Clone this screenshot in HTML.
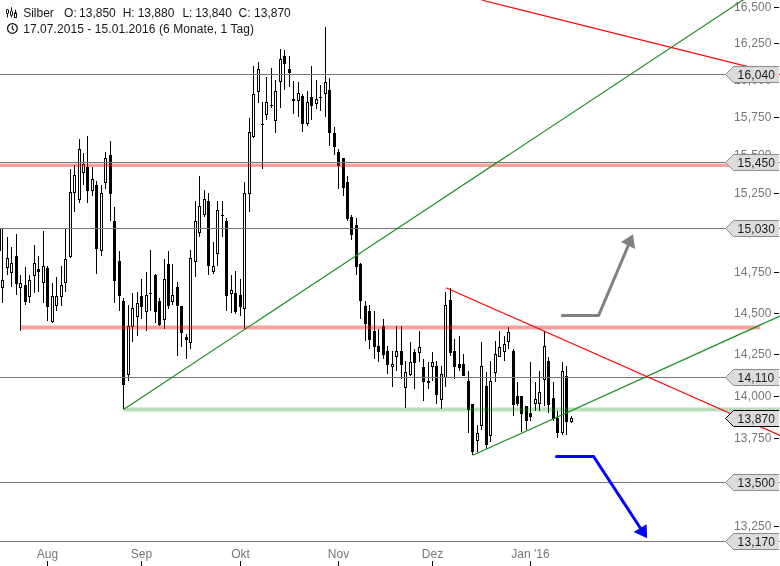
<!DOCTYPE html>
<html><head><meta charset="utf-8">
<style>
html,body{margin:0;padding:0;background:#fff;}
body{width:780px;height:566px;overflow:hidden;position:relative;font-family:"Liberation Sans",sans-serif;}
svg{position:absolute;left:0;top:0;}
svg{will-change:transform;}
.ax{font-family:"Liberation Sans",sans-serif;font-size:12px;fill:#7a7573;letter-spacing:0.17px;}
.bt{font-family:"Liberation Sans",sans-serif;font-size:12px;fill:#1a1a1a;letter-spacing:0.15px;}
.ml{font-family:"Liberation Sans",sans-serif;font-size:12px;fill:#7a7573;}
.hd{font-family:"Liberation Sans",sans-serif;font-size:12px;fill:#161616;}
</style></head>
<body>
<svg width="780" height="566" viewBox="0 0 780 566">
<rect x="0" y="0" width="780" height="566" fill="#fff"/>
<g class="axis">
<rect x="774" y="7" width="5" height="1" fill="#000"/>
<text x="771.7" y="11.3" text-anchor="end" class="ax">16,500</text>
<rect x="774" y="43" width="5" height="1" fill="#000"/>
<text x="771.7" y="47.3" text-anchor="end" class="ax">16,250</text>
<rect x="774" y="80" width="5" height="1" fill="#000"/>
<text x="771.7" y="84.3" text-anchor="end" class="ax">16,000</text>
<rect x="774" y="117" width="5" height="1" fill="#000"/>
<text x="771.7" y="121.3" text-anchor="end" class="ax">15,750</text>
<rect x="774" y="155" width="5" height="1" fill="#000"/>
<text x="771.7" y="159.3" text-anchor="end" class="ax">15,500</text>
<rect x="774" y="193" width="5" height="1" fill="#000"/>
<text x="771.7" y="197.3" text-anchor="end" class="ax">15,250</text>
<rect x="774" y="232" width="5" height="1" fill="#000"/>
<text x="771.7" y="236.3" text-anchor="end" class="ax">15,000</text>
<rect x="774" y="272" width="5" height="1" fill="#000"/>
<text x="771.7" y="276.3" text-anchor="end" class="ax">14,750</text>
<rect x="774" y="313" width="5" height="1" fill="#000"/>
<text x="771.7" y="317.3" text-anchor="end" class="ax">14,500</text>
<rect x="774" y="354" width="5" height="1" fill="#000"/>
<text x="771.7" y="358.3" text-anchor="end" class="ax">14,250</text>
<rect x="774" y="396" width="5" height="1" fill="#000"/>
<text x="771.7" y="400.3" text-anchor="end" class="ax">14,000</text>
<rect x="774" y="438" width="5" height="1" fill="#000"/>
<text x="771.7" y="442.3" text-anchor="end" class="ax">13,750</text>
<rect x="774" y="482" width="5" height="1" fill="#000"/>
<text x="771.7" y="486.3" text-anchor="end" class="ax">13,500</text>
<rect x="774" y="526" width="5" height="1" fill="#000"/>
<text x="771.7" y="530.3" text-anchor="end" class="ax">13,250</text>
</g>
<g fill="#000" shape-rendering="crispEdges">
<rect x="-1" y="228" width="1" height="23"/>
<rect x="-2" y="228" width="3" height="23"/>
<rect x="2" y="228" width="1" height="75"/>
<rect x="1" y="280" width="3" height="1"/>
<rect x="1" y="287" width="3" height="1"/>
<rect x="1" y="280" width="1" height="8"/>
<rect x="3" y="280" width="1" height="8"/>
<rect x="2" y="281" width="1" height="6" fill="#fff"/>
<rect x="7" y="237" width="1" height="38"/>
<rect x="6" y="258" width="3" height="1"/>
<rect x="6" y="267" width="3" height="1"/>
<rect x="6" y="258" width="1" height="10"/>
<rect x="8" y="258" width="1" height="10"/>
<rect x="7" y="259" width="1" height="8" fill="#fff"/>
<rect x="11" y="247" width="1" height="40"/>
<rect x="10" y="263" width="3" height="1"/>
<rect x="10" y="272" width="3" height="1"/>
<rect x="10" y="263" width="1" height="10"/>
<rect x="12" y="263" width="1" height="10"/>
<rect x="11" y="264" width="1" height="8" fill="#fff"/>
<rect x="16" y="234" width="1" height="61"/>
<rect x="15" y="256" width="3" height="28"/>
<rect x="20" y="275" width="1" height="56"/>
<rect x="19" y="283" width="3" height="1"/>
<rect x="19" y="287" width="3" height="1"/>
<rect x="19" y="283" width="1" height="5"/>
<rect x="21" y="283" width="1" height="5"/>
<rect x="20" y="284" width="1" height="3" fill="#fff"/>
<rect x="25" y="267" width="1" height="38"/>
<rect x="24" y="285" width="3" height="17"/>
<rect x="29" y="275" width="1" height="28"/>
<rect x="28" y="280" width="3" height="1"/>
<rect x="28" y="296" width="3" height="1"/>
<rect x="28" y="280" width="1" height="17"/>
<rect x="30" y="280" width="1" height="17"/>
<rect x="29" y="281" width="1" height="15" fill="#fff"/>
<rect x="34" y="245" width="1" height="48"/>
<rect x="33" y="263" width="3" height="1"/>
<rect x="33" y="275" width="3" height="1"/>
<rect x="33" y="263" width="1" height="13"/>
<rect x="35" y="263" width="1" height="13"/>
<rect x="34" y="264" width="1" height="11" fill="#fff"/>
<rect x="38" y="256" width="1" height="36"/>
<rect x="37" y="269" width="3" height="3"/>
<rect x="43" y="231" width="1" height="72"/>
<rect x="42" y="266" width="3" height="1"/>
<rect x="42" y="282" width="3" height="1"/>
<rect x="42" y="266" width="1" height="17"/>
<rect x="44" y="266" width="1" height="17"/>
<rect x="43" y="267" width="1" height="15" fill="#fff"/>
<rect x="47" y="266" width="1" height="55"/>
<rect x="46" y="268" width="3" height="39"/>
<rect x="52" y="283" width="1" height="40"/>
<rect x="51" y="296" width="3" height="1"/>
<rect x="51" y="321" width="3" height="1"/>
<rect x="51" y="296" width="1" height="26"/>
<rect x="53" y="296" width="1" height="26"/>
<rect x="52" y="297" width="1" height="24" fill="#fff"/>
<rect x="56" y="277" width="1" height="34"/>
<rect x="55" y="296" width="3" height="1"/>
<rect x="55" y="305" width="3" height="1"/>
<rect x="55" y="296" width="1" height="10"/>
<rect x="57" y="296" width="1" height="10"/>
<rect x="56" y="297" width="1" height="8" fill="#fff"/>
<rect x="61" y="266" width="1" height="40"/>
<rect x="60" y="285" width="3" height="1"/>
<rect x="60" y="296" width="3" height="1"/>
<rect x="60" y="285" width="1" height="12"/>
<rect x="62" y="285" width="1" height="12"/>
<rect x="61" y="286" width="1" height="10" fill="#fff"/>
<rect x="65" y="229" width="1" height="63"/>
<rect x="64" y="259" width="3" height="1"/>
<rect x="64" y="282" width="3" height="1"/>
<rect x="64" y="259" width="1" height="24"/>
<rect x="66" y="259" width="1" height="24"/>
<rect x="65" y="260" width="1" height="22" fill="#fff"/>
<rect x="70" y="169" width="1" height="89"/>
<rect x="69" y="192" width="3" height="1"/>
<rect x="69" y="256" width="3" height="1"/>
<rect x="69" y="192" width="1" height="65"/>
<rect x="71" y="192" width="1" height="65"/>
<rect x="70" y="193" width="1" height="63" fill="#fff"/>
<rect x="74" y="165" width="1" height="47"/>
<rect x="73" y="175" width="3" height="1"/>
<rect x="73" y="192" width="3" height="1"/>
<rect x="73" y="175" width="1" height="18"/>
<rect x="75" y="175" width="1" height="18"/>
<rect x="74" y="176" width="1" height="16" fill="#fff"/>
<rect x="79" y="139" width="1" height="64"/>
<rect x="78" y="149" width="3" height="1"/>
<rect x="78" y="199" width="3" height="1"/>
<rect x="78" y="149" width="1" height="51"/>
<rect x="80" y="149" width="1" height="51"/>
<rect x="79" y="150" width="1" height="49" fill="#fff"/>
<rect x="83" y="153" width="1" height="32"/>
<rect x="82" y="164" width="3" height="1"/>
<rect x="82" y="172" width="3" height="1"/>
<rect x="82" y="164" width="1" height="9"/>
<rect x="84" y="164" width="1" height="9"/>
<rect x="83" y="165" width="1" height="7" fill="#fff"/>
<rect x="87" y="136" width="1" height="67"/>
<rect x="86" y="167" width="3" height="24"/>
<rect x="92" y="167" width="1" height="29"/>
<rect x="91" y="179" width="3" height="1"/>
<rect x="91" y="190" width="3" height="1"/>
<rect x="91" y="179" width="1" height="12"/>
<rect x="93" y="179" width="1" height="12"/>
<rect x="92" y="180" width="1" height="10" fill="#fff"/>
<rect x="96" y="181" width="1" height="93"/>
<rect x="95" y="185" width="3" height="64"/>
<rect x="101" y="185" width="1" height="71"/>
<rect x="100" y="193" width="3" height="1"/>
<rect x="100" y="250" width="3" height="1"/>
<rect x="100" y="193" width="1" height="58"/>
<rect x="102" y="193" width="1" height="58"/>
<rect x="101" y="194" width="1" height="56" fill="#fff"/>
<rect x="105" y="152" width="1" height="37"/>
<rect x="104" y="158" width="3" height="1"/>
<rect x="104" y="182" width="3" height="1"/>
<rect x="104" y="158" width="1" height="25"/>
<rect x="106" y="158" width="1" height="25"/>
<rect x="105" y="159" width="1" height="23" fill="#fff"/>
<rect x="110" y="141" width="1" height="80"/>
<rect x="109" y="155" width="3" height="39"/>
<rect x="114" y="207" width="1" height="96"/>
<rect x="113" y="221" width="3" height="60"/>
<rect x="119" y="251" width="1" height="60"/>
<rect x="118" y="261" width="3" height="35"/>
<rect x="123" y="298" width="1" height="111"/>
<rect x="122" y="301" width="3" height="84"/>
<rect x="128" y="305" width="1" height="76"/>
<rect x="127" y="326" width="3" height="1"/>
<rect x="127" y="374" width="3" height="1"/>
<rect x="127" y="326" width="1" height="49"/>
<rect x="129" y="326" width="1" height="49"/>
<rect x="128" y="327" width="1" height="47" fill="#fff"/>
<rect x="132" y="293" width="1" height="49"/>
<rect x="131" y="308" width="3" height="1"/>
<rect x="131" y="326" width="3" height="1"/>
<rect x="131" y="308" width="1" height="19"/>
<rect x="133" y="308" width="1" height="19"/>
<rect x="132" y="309" width="1" height="17" fill="#fff"/>
<rect x="137" y="292" width="1" height="44"/>
<rect x="136" y="303" width="3" height="1"/>
<rect x="136" y="316" width="3" height="1"/>
<rect x="136" y="303" width="1" height="14"/>
<rect x="138" y="303" width="1" height="14"/>
<rect x="137" y="304" width="1" height="12" fill="#fff"/>
<rect x="141" y="279" width="1" height="40"/>
<rect x="140" y="296" width="3" height="11"/>
<rect x="146" y="272" width="1" height="59"/>
<rect x="145" y="295" width="3" height="1"/>
<rect x="145" y="311" width="3" height="1"/>
<rect x="145" y="295" width="1" height="17"/>
<rect x="147" y="295" width="1" height="17"/>
<rect x="146" y="296" width="1" height="15" fill="#fff"/>
<rect x="150" y="250" width="1" height="61"/>
<rect x="149" y="293" width="3" height="1"/>
<rect x="155" y="274" width="1" height="49"/>
<rect x="154" y="275" width="3" height="37"/>
<rect x="159" y="298" width="1" height="28"/>
<rect x="158" y="301" width="3" height="24"/>
<rect x="164" y="259" width="1" height="70"/>
<rect x="163" y="279" width="3" height="1"/>
<rect x="163" y="319" width="3" height="1"/>
<rect x="163" y="279" width="1" height="41"/>
<rect x="165" y="279" width="1" height="41"/>
<rect x="164" y="280" width="1" height="39" fill="#fff"/>
<rect x="168" y="251" width="1" height="58"/>
<rect x="167" y="264" width="3" height="42"/>
<rect x="172" y="264" width="1" height="41"/>
<rect x="171" y="295" width="3" height="1"/>
<rect x="171" y="301" width="3" height="1"/>
<rect x="171" y="295" width="1" height="7"/>
<rect x="173" y="295" width="1" height="7"/>
<rect x="172" y="296" width="1" height="5" fill="#fff"/>
<rect x="177" y="282" width="1" height="74"/>
<rect x="176" y="287" width="3" height="19"/>
<rect x="181" y="306" width="1" height="41"/>
<rect x="180" y="306" width="3" height="27"/>
<rect x="186" y="334" width="1" height="25"/>
<rect x="185" y="337" width="3" height="3"/>
<rect x="190" y="250" width="1" height="99"/>
<rect x="189" y="258" width="3" height="1"/>
<rect x="189" y="342" width="3" height="1"/>
<rect x="189" y="258" width="1" height="85"/>
<rect x="191" y="258" width="1" height="85"/>
<rect x="190" y="259" width="1" height="83" fill="#fff"/>
<rect x="195" y="201" width="1" height="76"/>
<rect x="194" y="221" width="3" height="1"/>
<rect x="194" y="261" width="3" height="1"/>
<rect x="194" y="221" width="1" height="41"/>
<rect x="196" y="221" width="1" height="41"/>
<rect x="195" y="222" width="1" height="39" fill="#fff"/>
<rect x="199" y="176" width="1" height="61"/>
<rect x="198" y="206" width="3" height="1"/>
<rect x="198" y="232" width="3" height="1"/>
<rect x="198" y="206" width="1" height="27"/>
<rect x="200" y="206" width="1" height="27"/>
<rect x="199" y="207" width="1" height="25" fill="#fff"/>
<rect x="204" y="190" width="1" height="27"/>
<rect x="203" y="199" width="3" height="1"/>
<rect x="203" y="214" width="3" height="1"/>
<rect x="203" y="199" width="1" height="16"/>
<rect x="205" y="199" width="1" height="16"/>
<rect x="204" y="200" width="1" height="14" fill="#fff"/>
<rect x="208" y="193" width="1" height="82"/>
<rect x="207" y="201" width="3" height="65"/>
<rect x="213" y="242" width="1" height="32"/>
<rect x="212" y="266" width="3" height="1"/>
<rect x="212" y="271" width="3" height="1"/>
<rect x="212" y="266" width="1" height="6"/>
<rect x="214" y="266" width="1" height="6"/>
<rect x="213" y="267" width="1" height="4" fill="#fff"/>
<rect x="217" y="201" width="1" height="65"/>
<rect x="216" y="210" width="3" height="1"/>
<rect x="216" y="253" width="3" height="1"/>
<rect x="216" y="210" width="1" height="44"/>
<rect x="218" y="210" width="1" height="44"/>
<rect x="217" y="211" width="1" height="42" fill="#fff"/>
<rect x="222" y="201" width="1" height="36"/>
<rect x="221" y="215" width="3" height="1"/>
<rect x="226" y="218" width="1" height="93"/>
<rect x="225" y="221" width="3" height="75"/>
<rect x="231" y="275" width="1" height="38"/>
<rect x="230" y="290" width="3" height="1"/>
<rect x="230" y="293" width="3" height="1"/>
<rect x="230" y="290" width="1" height="4"/>
<rect x="232" y="290" width="1" height="4"/>
<rect x="231" y="291" width="1" height="2" fill="#fff"/>
<rect x="235" y="271" width="1" height="43"/>
<rect x="234" y="293" width="3" height="19"/>
<rect x="240" y="279" width="1" height="37"/>
<rect x="239" y="295" width="3" height="12"/>
<rect x="244" y="182" width="1" height="147"/>
<rect x="243" y="193" width="3" height="1"/>
<rect x="243" y="308" width="3" height="1"/>
<rect x="243" y="193" width="1" height="116"/>
<rect x="245" y="193" width="1" height="116"/>
<rect x="244" y="194" width="1" height="114" fill="#fff"/>
<rect x="249" y="118" width="1" height="94"/>
<rect x="248" y="132" width="3" height="1"/>
<rect x="248" y="193" width="3" height="1"/>
<rect x="248" y="132" width="1" height="62"/>
<rect x="250" y="132" width="1" height="62"/>
<rect x="249" y="133" width="1" height="60" fill="#fff"/>
<rect x="253" y="66" width="1" height="72"/>
<rect x="252" y="94" width="3" height="1"/>
<rect x="252" y="136" width="3" height="1"/>
<rect x="252" y="94" width="1" height="43"/>
<rect x="254" y="94" width="1" height="43"/>
<rect x="253" y="95" width="1" height="41" fill="#fff"/>
<rect x="258" y="62" width="1" height="41"/>
<rect x="257" y="69" width="3" height="1"/>
<rect x="257" y="91" width="3" height="1"/>
<rect x="257" y="69" width="1" height="23"/>
<rect x="259" y="69" width="1" height="23"/>
<rect x="258" y="70" width="1" height="21" fill="#fff"/>
<rect x="262" y="102" width="1" height="67"/>
<rect x="261" y="124" width="3" height="1"/>
<rect x="266" y="77" width="1" height="43"/>
<rect x="265" y="102" width="3" height="1"/>
<rect x="265" y="114" width="3" height="1"/>
<rect x="265" y="102" width="1" height="13"/>
<rect x="267" y="102" width="1" height="13"/>
<rect x="266" y="103" width="1" height="11" fill="#fff"/>
<rect x="271" y="68" width="1" height="40"/>
<rect x="270" y="105" width="3" height="1"/>
<rect x="275" y="80" width="1" height="53"/>
<rect x="274" y="91" width="3" height="1"/>
<rect x="274" y="120" width="3" height="1"/>
<rect x="274" y="91" width="1" height="30"/>
<rect x="276" y="91" width="1" height="30"/>
<rect x="275" y="92" width="1" height="28" fill="#fff"/>
<rect x="280" y="49" width="1" height="59"/>
<rect x="279" y="59" width="3" height="1"/>
<rect x="279" y="81" width="3" height="1"/>
<rect x="279" y="59" width="1" height="23"/>
<rect x="281" y="59" width="1" height="23"/>
<rect x="280" y="60" width="1" height="21" fill="#fff"/>
<rect x="284" y="50" width="1" height="40"/>
<rect x="283" y="56" width="3" height="8"/>
<rect x="289" y="56" width="1" height="31"/>
<rect x="288" y="69" width="3" height="4"/>
<rect x="293" y="81" width="1" height="33"/>
<rect x="292" y="99" width="3" height="2"/>
<rect x="298" y="82" width="1" height="35"/>
<rect x="297" y="93" width="3" height="1"/>
<rect x="297" y="100" width="3" height="1"/>
<rect x="297" y="93" width="1" height="8"/>
<rect x="299" y="93" width="1" height="8"/>
<rect x="298" y="94" width="1" height="6" fill="#fff"/>
<rect x="302" y="94" width="1" height="38"/>
<rect x="301" y="96" width="3" height="28"/>
<rect x="307" y="91" width="1" height="35"/>
<rect x="306" y="102" width="3" height="1"/>
<rect x="306" y="123" width="3" height="1"/>
<rect x="306" y="102" width="1" height="22"/>
<rect x="308" y="102" width="1" height="22"/>
<rect x="307" y="103" width="1" height="20" fill="#fff"/>
<rect x="311" y="66" width="1" height="54"/>
<rect x="310" y="97" width="3" height="9"/>
<rect x="316" y="80" width="1" height="29"/>
<rect x="315" y="99" width="3" height="1"/>
<rect x="315" y="103" width="3" height="1"/>
<rect x="315" y="99" width="1" height="5"/>
<rect x="317" y="99" width="1" height="5"/>
<rect x="316" y="100" width="1" height="3" fill="#fff"/>
<rect x="320" y="85" width="1" height="26"/>
<rect x="319" y="97" width="3" height="1"/>
<rect x="325" y="27" width="1" height="90"/>
<rect x="324" y="82" width="3" height="1"/>
<rect x="324" y="93" width="3" height="1"/>
<rect x="324" y="82" width="1" height="12"/>
<rect x="326" y="82" width="1" height="12"/>
<rect x="325" y="83" width="1" height="10" fill="#fff"/>
<rect x="329" y="78" width="1" height="68"/>
<rect x="328" y="90" width="3" height="43"/>
<rect x="334" y="127" width="1" height="28"/>
<rect x="333" y="133" width="3" height="14"/>
<rect x="338" y="149" width="1" height="40"/>
<rect x="337" y="152" width="3" height="14"/>
<rect x="343" y="158" width="1" height="38"/>
<rect x="342" y="158" width="3" height="30"/>
<rect x="347" y="176" width="1" height="45"/>
<rect x="346" y="182" width="3" height="37"/>
<rect x="351" y="215" width="1" height="25"/>
<rect x="350" y="217" width="3" height="18"/>
<rect x="356" y="218" width="1" height="57"/>
<rect x="355" y="225" width="3" height="42"/>
<rect x="360" y="263" width="1" height="56"/>
<rect x="359" y="264" width="3" height="37"/>
<rect x="365" y="301" width="1" height="40"/>
<rect x="364" y="306" width="3" height="18"/>
<rect x="369" y="305" width="1" height="44"/>
<rect x="368" y="311" width="3" height="29"/>
<rect x="374" y="311" width="1" height="48"/>
<rect x="373" y="331" width="3" height="16"/>
<rect x="378" y="329" width="1" height="33"/>
<rect x="377" y="346" width="3" height="6"/>
<rect x="383" y="319" width="1" height="40"/>
<rect x="382" y="326" width="3" height="29"/>
<rect x="387" y="346" width="1" height="28"/>
<rect x="386" y="351" width="3" height="14"/>
<rect x="392" y="351" width="1" height="36"/>
<rect x="391" y="364" width="3" height="1"/>
<rect x="391" y="366" width="3" height="1"/>
<rect x="391" y="364" width="1" height="3"/>
<rect x="393" y="364" width="1" height="3"/>
<rect x="392" y="365" width="1" height="1" fill="#fff"/>
<rect x="396" y="326" width="1" height="45"/>
<rect x="395" y="351" width="3" height="1"/>
<rect x="395" y="356" width="3" height="1"/>
<rect x="395" y="351" width="1" height="6"/>
<rect x="397" y="351" width="1" height="6"/>
<rect x="396" y="352" width="1" height="4" fill="#fff"/>
<rect x="401" y="326" width="1" height="53"/>
<rect x="400" y="351" width="3" height="14"/>
<rect x="405" y="361" width="1" height="47"/>
<rect x="404" y="372" width="3" height="1"/>
<rect x="404" y="387" width="3" height="1"/>
<rect x="404" y="372" width="1" height="16"/>
<rect x="406" y="372" width="1" height="16"/>
<rect x="405" y="373" width="1" height="14" fill="#fff"/>
<rect x="410" y="342" width="1" height="34"/>
<rect x="409" y="362" width="3" height="1"/>
<rect x="409" y="374" width="3" height="1"/>
<rect x="409" y="362" width="1" height="13"/>
<rect x="411" y="362" width="1" height="13"/>
<rect x="410" y="363" width="1" height="11" fill="#fff"/>
<rect x="414" y="349" width="1" height="40"/>
<rect x="413" y="352" width="3" height="11"/>
<rect x="419" y="331" width="1" height="31"/>
<rect x="418" y="347" width="3" height="1"/>
<rect x="418" y="352" width="3" height="1"/>
<rect x="418" y="347" width="1" height="6"/>
<rect x="420" y="347" width="1" height="6"/>
<rect x="419" y="348" width="1" height="4" fill="#fff"/>
<rect x="423" y="359" width="1" height="42"/>
<rect x="422" y="367" width="3" height="15"/>
<rect x="428" y="362" width="1" height="27"/>
<rect x="427" y="381" width="3" height="2"/>
<rect x="432" y="352" width="1" height="29"/>
<rect x="431" y="362" width="3" height="1"/>
<rect x="431" y="366" width="3" height="1"/>
<rect x="431" y="362" width="1" height="5"/>
<rect x="433" y="362" width="1" height="5"/>
<rect x="432" y="363" width="1" height="3" fill="#fff"/>
<rect x="436" y="361" width="1" height="43"/>
<rect x="435" y="366" width="3" height="29"/>
<rect x="441" y="366" width="1" height="43"/>
<rect x="440" y="374" width="3" height="1"/>
<rect x="440" y="399" width="3" height="1"/>
<rect x="440" y="374" width="1" height="26"/>
<rect x="442" y="374" width="1" height="26"/>
<rect x="441" y="375" width="1" height="24" fill="#fff"/>
<rect x="445" y="292" width="1" height="95"/>
<rect x="444" y="305" width="3" height="1"/>
<rect x="444" y="377" width="3" height="1"/>
<rect x="444" y="305" width="1" height="73"/>
<rect x="446" y="305" width="1" height="73"/>
<rect x="445" y="306" width="1" height="71" fill="#fff"/>
<rect x="450" y="288" width="1" height="68"/>
<rect x="449" y="300" width="3" height="53"/>
<rect x="454" y="339" width="1" height="40"/>
<rect x="453" y="351" width="3" height="16"/>
<rect x="459" y="336" width="1" height="35"/>
<rect x="458" y="364" width="3" height="4"/>
<rect x="463" y="354" width="1" height="22"/>
<rect x="462" y="364" width="3" height="12"/>
<rect x="468" y="371" width="1" height="62"/>
<rect x="467" y="381" width="3" height="29"/>
<rect x="472" y="404" width="1" height="51"/>
<rect x="471" y="404" width="3" height="48"/>
<rect x="477" y="425" width="1" height="27"/>
<rect x="476" y="433" width="3" height="1"/>
<rect x="476" y="440" width="3" height="1"/>
<rect x="476" y="433" width="1" height="8"/>
<rect x="478" y="433" width="1" height="8"/>
<rect x="477" y="434" width="1" height="6" fill="#fff"/>
<rect x="481" y="342" width="1" height="88"/>
<rect x="480" y="366" width="3" height="1"/>
<rect x="480" y="425" width="3" height="1"/>
<rect x="480" y="366" width="1" height="60"/>
<rect x="482" y="366" width="1" height="60"/>
<rect x="481" y="367" width="1" height="58" fill="#fff"/>
<rect x="486" y="372" width="1" height="77"/>
<rect x="485" y="386" width="3" height="59"/>
<rect x="490" y="361" width="1" height="81"/>
<rect x="489" y="381" width="3" height="1"/>
<rect x="489" y="435" width="3" height="1"/>
<rect x="489" y="381" width="1" height="55"/>
<rect x="491" y="381" width="1" height="55"/>
<rect x="490" y="382" width="1" height="53" fill="#fff"/>
<rect x="495" y="341" width="1" height="41"/>
<rect x="494" y="354" width="3" height="1"/>
<rect x="494" y="372" width="3" height="1"/>
<rect x="494" y="354" width="1" height="19"/>
<rect x="496" y="354" width="1" height="19"/>
<rect x="495" y="355" width="1" height="17" fill="#fff"/>
<rect x="499" y="331" width="1" height="26"/>
<rect x="498" y="347" width="3" height="1"/>
<rect x="498" y="356" width="3" height="1"/>
<rect x="498" y="347" width="1" height="10"/>
<rect x="500" y="347" width="1" height="10"/>
<rect x="499" y="348" width="1" height="8" fill="#fff"/>
<rect x="504" y="336" width="1" height="25"/>
<rect x="503" y="344" width="3" height="1"/>
<rect x="503" y="351" width="3" height="1"/>
<rect x="503" y="344" width="1" height="8"/>
<rect x="505" y="344" width="1" height="8"/>
<rect x="504" y="345" width="1" height="6" fill="#fff"/>
<rect x="508" y="327" width="1" height="22"/>
<rect x="507" y="332" width="3" height="1"/>
<rect x="507" y="341" width="3" height="1"/>
<rect x="507" y="332" width="1" height="10"/>
<rect x="509" y="332" width="1" height="10"/>
<rect x="508" y="333" width="1" height="8" fill="#fff"/>
<rect x="513" y="349" width="1" height="67"/>
<rect x="512" y="351" width="3" height="54"/>
<rect x="517" y="382" width="1" height="24"/>
<rect x="516" y="396" width="3" height="8"/>
<rect x="521" y="396" width="1" height="36"/>
<rect x="520" y="396" width="3" height="18"/>
<rect x="526" y="406" width="1" height="24"/>
<rect x="525" y="406" width="3" height="15"/>
<rect x="530" y="362" width="1" height="59"/>
<rect x="529" y="413" width="3" height="4"/>
<rect x="535" y="382" width="1" height="29"/>
<rect x="534" y="399" width="3" height="1"/>
<rect x="534" y="403" width="3" height="1"/>
<rect x="534" y="399" width="1" height="5"/>
<rect x="536" y="399" width="1" height="5"/>
<rect x="535" y="400" width="1" height="3" fill="#fff"/>
<rect x="539" y="371" width="1" height="40"/>
<rect x="538" y="392" width="3" height="1"/>
<rect x="538" y="403" width="3" height="1"/>
<rect x="538" y="392" width="1" height="12"/>
<rect x="540" y="392" width="1" height="12"/>
<rect x="539" y="393" width="1" height="10" fill="#fff"/>
<rect x="544" y="331" width="1" height="75"/>
<rect x="543" y="346" width="3" height="1"/>
<rect x="543" y="379" width="3" height="1"/>
<rect x="543" y="346" width="1" height="34"/>
<rect x="545" y="346" width="1" height="34"/>
<rect x="544" y="347" width="1" height="32" fill="#fff"/>
<rect x="548" y="357" width="1" height="56"/>
<rect x="547" y="361" width="3" height="44"/>
<rect x="553" y="382" width="1" height="39"/>
<rect x="552" y="398" width="3" height="21"/>
<rect x="557" y="411" width="1" height="27"/>
<rect x="556" y="418" width="3" height="15"/>
<rect x="562" y="362" width="1" height="73"/>
<rect x="561" y="371" width="3" height="1"/>
<rect x="561" y="432" width="3" height="1"/>
<rect x="561" y="371" width="1" height="62"/>
<rect x="563" y="371" width="1" height="62"/>
<rect x="562" y="372" width="1" height="60" fill="#fff"/>
<rect x="566" y="366" width="1" height="69"/>
<rect x="565" y="376" width="3" height="46"/>
<rect x="571" y="416" width="1" height="7"/>
<rect x="570" y="418" width="3" height="1"/>
<rect x="570" y="421" width="3" height="1"/>
<rect x="570" y="418" width="1" height="4"/>
<rect x="572" y="418" width="1" height="4"/>
<rect x="571" y="419" width="1" height="2" fill="#fff"/>
</g>
<g shape-rendering="crispEdges">
<rect x="0" y="74" width="780" height="1" fill="#7a7571"/>
<rect x="0" y="162" width="780" height="1" fill="#7a7571"/>
<rect x="0" y="228" width="780" height="1" fill="#7a7571"/>
<rect x="0" y="377" width="780" height="1" fill="#7a7571"/>
<rect x="0" y="482" width="780" height="1" fill="#7a7571"/>
<rect x="0" y="541" width="780" height="1" fill="#7a7571"/>
</g>
<!-- bands -->
<rect x="0" y="163.6" width="735" height="3.4" fill="rgba(238,28,17,0.42)"/>
<rect x="20.5" y="325.5" width="739.3" height="4" fill="rgba(238,28,17,0.42)"/>
<rect x="123.5" y="407.5" width="657" height="4" fill="rgba(28,140,28,0.29)"/>
<!-- trend lines -->
<g fill="none" stroke-width="1.15">
<line x1="123.5" y1="409.5" x2="748.3" y2="-3.5" stroke="#178c1f"/>
<line x1="472.7" y1="455.3" x2="780" y2="316" stroke="#178c1f"/>
<line x1="482.3" y1="0.3" x2="780" y2="74.6" stroke="#ff0000"/>
<line x1="446" y1="287.8" x2="780" y2="435.4" stroke="#ff0000"/>
</g>
<!-- arrows -->
<polyline points="562.3,315.5 598.6,315.5 628.5,245" fill="none" stroke="#808080" stroke-width="3" stroke-linecap="round" stroke-linejoin="round"/>
<polygon points="633,234.2 621,242.1 635.2,248.9" fill="#808080"/>
<polyline points="556.5,456.5 593.6,456.5 641,529" fill="none" stroke="#0000ff" stroke-width="3" stroke-linecap="round" stroke-linejoin="round"/>
<polygon points="647.1,538.3 633.7,531.9 646.6,524.2" fill="#0000ff"/>
<g>
<polygon points="725.5,74.5 733.5,66.5 779,66.5 779,82.5 733.5,82.5" fill="#dcdcdc"/>
<path d="M779,66.5 H733.5 L725.5,74.5 L733.5,82.5 H779" fill="none" stroke="#8a8a8a" stroke-width="1"/>
<text x="737.6" y="78.8" class="bt">16,040</text>
<polygon points="725.5,162.5 733.5,154.5 779,154.5 779,170.5 733.5,170.5" fill="#dcdcdc"/>
<path d="M779,154.5 H733.5 L725.5,162.5 L733.5,170.5 H779" fill="none" stroke="#8a8a8a" stroke-width="1"/>
<text x="737.6" y="166.8" class="bt">15,450</text>
<polygon points="725.5,228.5 733.5,220.5 779,220.5 779,236.5 733.5,236.5" fill="#dcdcdc"/>
<path d="M779,220.5 H733.5 L725.5,228.5 L733.5,236.5 H779" fill="none" stroke="#8a8a8a" stroke-width="1"/>
<text x="737.6" y="232.8" class="bt">15,030</text>
<polygon points="725.5,377.5 733.5,369.5 779,369.5 779,385.5 733.5,385.5" fill="#dcdcdc"/>
<path d="M779,369.5 H733.5 L725.5,377.5 L733.5,385.5 H779" fill="none" stroke="#8a8a8a" stroke-width="1"/>
<text x="737.6" y="381.8" class="bt">14,110</text>
<polygon points="725.5,418.5 733.5,410.5 779,410.5 779,426.5 733.5,426.5" fill="#dcdcdc"/>
<path d="M779,410.5 H733.5 L725.5,418.5 L733.5,426.5 H779" fill="none" stroke="#000" stroke-width="1"/>
<text x="737.6" y="422.8" class="bt">13,870</text>
<polygon points="725.5,482.5 733.5,474.5 779,474.5 779,490.5 733.5,490.5" fill="#dcdcdc"/>
<path d="M779,474.5 H733.5 L725.5,482.5 L733.5,490.5 H779" fill="none" stroke="#8a8a8a" stroke-width="1"/>
<text x="737.6" y="486.8" class="bt">13,500</text>
<polygon points="725.5,541.5 733.5,533.5 779,533.5 779,549.5 733.5,549.5" fill="#dcdcdc"/>
<path d="M779,533.5 H733.5 L725.5,541.5 L733.5,549.5 H779" fill="none" stroke="#8a8a8a" stroke-width="1"/>
<text x="737.6" y="545.8" class="bt">13,170</text>
</g>
<g>
<rect x="47" y="561" width="1" height="5" fill="#000"/>
<text x="47.5" y="558" text-anchor="middle" class="ml">Aug</text>
<rect x="141" y="561" width="1" height="5" fill="#000"/>
<text x="141.5" y="558" text-anchor="middle" class="ml">Sep</text>
<rect x="240" y="561" width="1" height="5" fill="#000"/>
<text x="240.5" y="558" text-anchor="middle" class="ml">Okt</text>
<rect x="338" y="561" width="1" height="5" fill="#000"/>
<text x="338.5" y="558" text-anchor="middle" class="ml">Nov</text>
<rect x="432" y="561" width="1" height="5" fill="#000"/>
<text x="432.5" y="558" text-anchor="middle" class="ml">Dez</text>
<rect x="530" y="561" width="1" height="5" fill="#000"/>
<text x="530.5" y="558" text-anchor="middle" class="ml">Jan '16</text>
</g>
<!-- header -->
<g fill="none" stroke="#111" stroke-width="1">
<line x1="7.5" y1="13.5" x2="7.5" y2="17.5"/>
<rect x="6.5" y="9.5" width="2" height="4" rx="0.5" fill="#fff"/>
<line x1="11.5" y1="7.3" x2="11.5" y2="17.3"/>
<rect x="10.5" y="11" width="2" height="4.6" rx="0.5" fill="#fff"/>
<line x1="15.5" y1="9.6" x2="15.5" y2="13"/>
<rect x="14.5" y="13" width="2" height="4.5" fill="#fff"/>
<circle cx="12.4" cy="28.4" r="4.85" stroke-width="1.25"/>
<polyline points="12.3,25.4 12.3,28.8 14.2,30.4" stroke-width="1.2"/>
</g>
<text x="23.2" y="16.5" class="hd">Silber</text>
<text x="64.1" y="16.5" class="hd">O:</text>
<text x="79.1" y="16.5" class="hd">13,850</text>
<text x="122.7" y="16.5" class="hd">H:</text>
<text x="137.7" y="16.5" class="hd">13,880</text>
<text x="182.4" y="16.5" class="hd">L:</text>
<text x="195.2" y="16.5" class="hd">13,840</text>
<text x="238.6" y="16.5" class="hd">C:</text>
<text x="254.1" y="16.5" class="hd">13,870</text>
<text x="23.2" y="32.7" class="hd" style="letter-spacing:0.07px">17.07.2015 - 15.01.2016 (6 Monate, 1 Tag)</text>
</svg>
</body></html>
